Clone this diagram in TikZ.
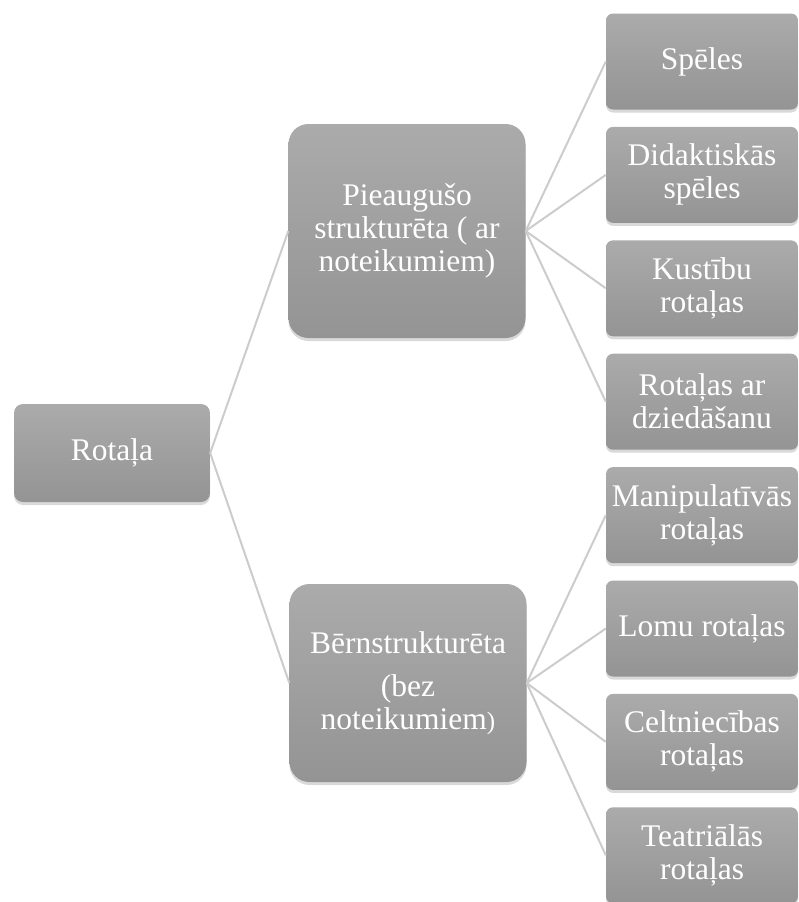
\documentclass[tikz,border=0pt]{standalone}
\usepackage{fontspec}
\setmainfont{Liberation Serif}
\usetikzlibrary{shapes,positioning,shadows}

\begin{document}
\begin{tikzpicture}[x=1pt, y=-1pt,
  box/.style={rectangle, top color=gray!66, bottom color=gray!84, draw=none, text=white, align=center, inner sep=0pt,
    font=\fontsize{31.5}{33}\selectfont, drop shadow={opacity=0.3, shadow xshift=0pt, shadow yshift=-3pt}},
  rootbox/.style={box, minimum width=196pt, minimum height=98pt, rounded corners=9pt},
  midbox/.style={box, minimum width=237pt, rounded corners=20pt},
  leafbox/.style={box, minimum width=192pt, minimum height=96pt, rounded corners=7pt},
  link/.style={draw=gray!40, line width=2pt}]
\useasboundingbox (0,0) rectangle (798,902);

% Rotaļa
\node[rootbox] (rotala) at (112,453) {Rotaļa};

% Pieaugušo strukturēta
\node[midbox, minimum height=214pt] (pieaug) at (407,231) {Pieaugušo\\ strukturēta ( ar\\ noteikumiem)};

% Bērnstrukturēta
\node[midbox, minimum height=198pt] (bern) at (408,683) {Bērnstrukturēta\\[10pt] (bez\\ noteikumiem{\fontsize{25}{25}\selectfont)}};

% spēļu veidi
\node[leafbox] (speles) at (702,61.5) {Spēles};
\node[leafbox, below=17pt of speles] (didakt) {Didaktiskās\\ spēles};
\node[leafbox, below=17pt of didakt] (kustibu) {Kustību\\ rotaļas};
\node[leafbox, below=17pt of kustibu] (dzied) {Rotaļas ar\\ dziedāšanu};

% rotaļu veidi
\node[leafbox, below=17pt of dzied] (manip) {Manipulatīvās\\ rotaļas};
\node[leafbox, below=17pt of manip] (lomu) {Lomu rotaļas};
\node[leafbox, below=17pt of lomu] (celt) {Celtniecības\\ rotaļas};
\node[leafbox, below=17pt of celt] (teatr) {Teatriālās\\ rotaļas};

% saites
\draw[link] (rotala.east) -- (pieaug.west);
\draw[link] (rotala.east) -- (bern.west);
\draw[link] (pieaug.east) -- (speles.west);
\draw[link] (pieaug.east) -- (didakt.west);
\draw[link] (pieaug.east) -- (kustibu.west);
\draw[link] (pieaug.east) -- (dzied.west);
\draw[link] (bern.east) -- (manip.west);
\draw[link] (bern.east) -- (lomu.west);
\draw[link] (bern.east) -- (celt.west);
\draw[link] (bern.east) -- (teatr.west);
\end{tikzpicture}
\end{document}
